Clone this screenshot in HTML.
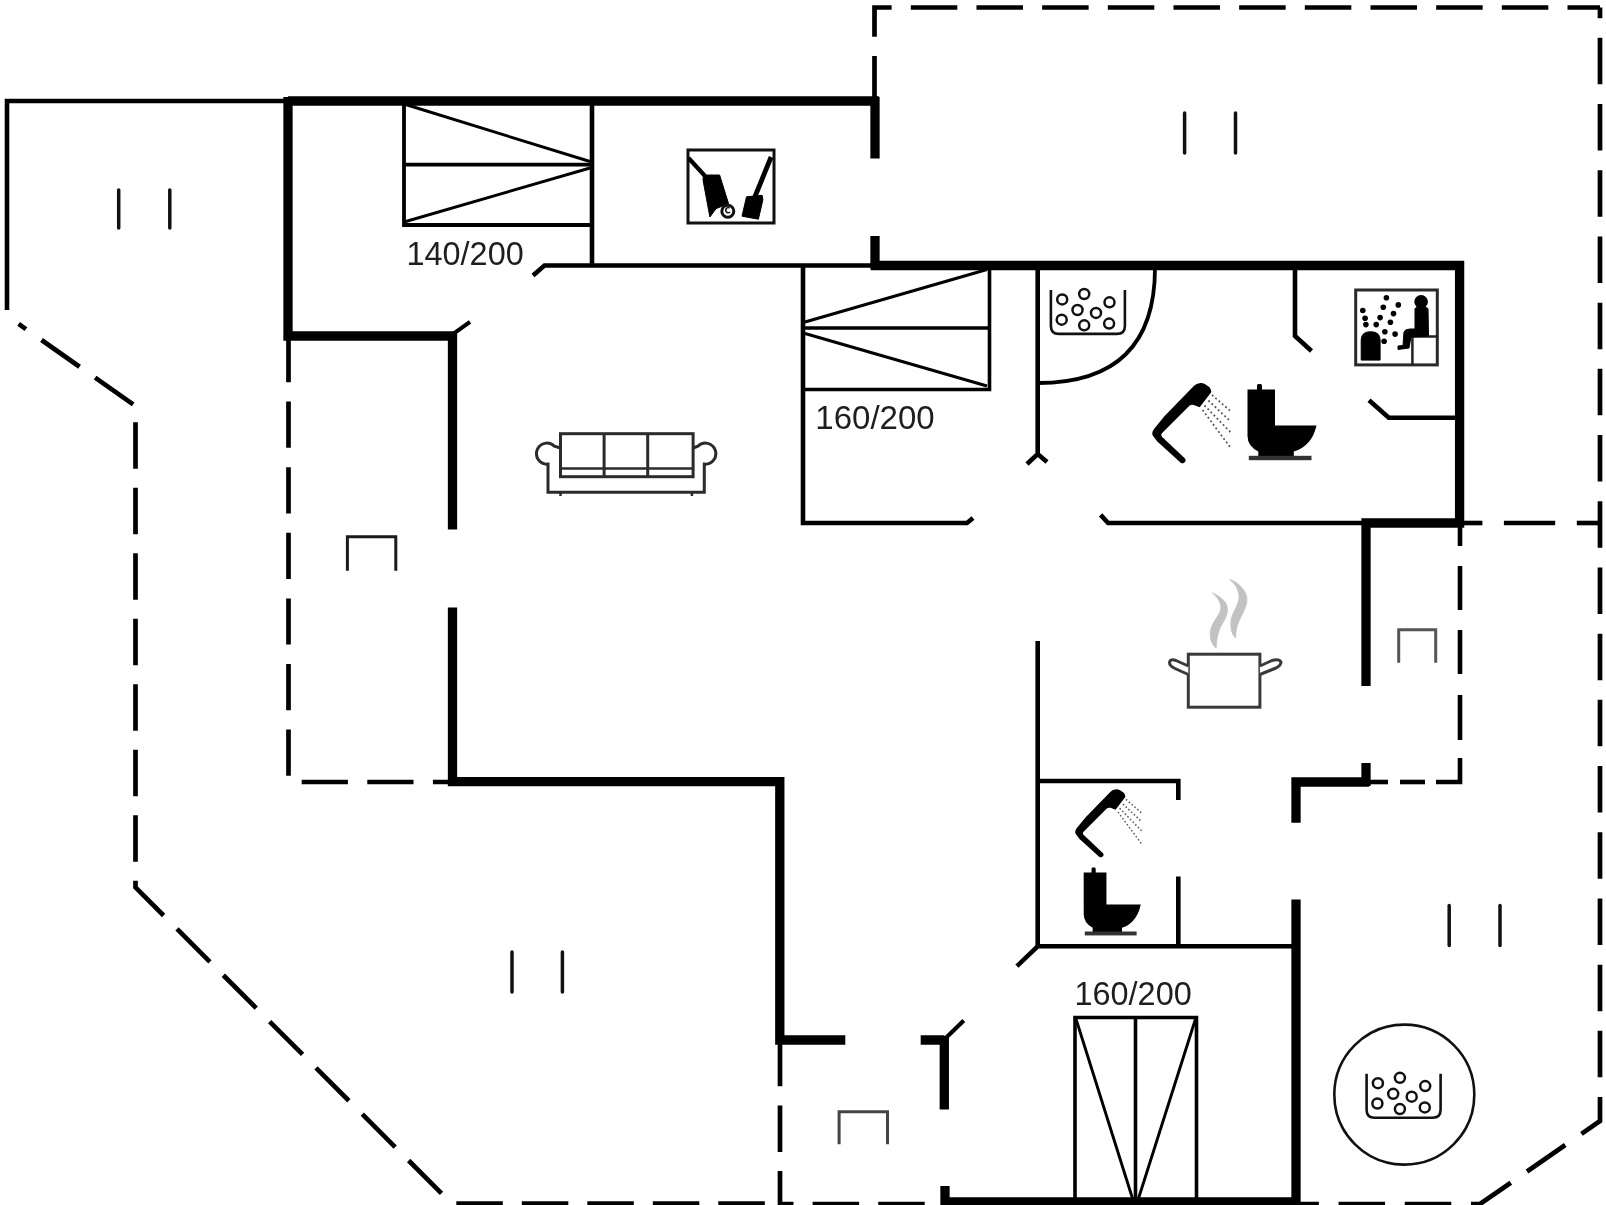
<!DOCTYPE html>
<html><head><meta charset="utf-8"><style>
html,body{margin:0;padding:0;background:#fff;overflow:hidden}
svg{display:block}
</style></head><body>
<div id="w"><svg width="1606" height="1205" viewBox="0 0 1606 1205">
<rect width="1606" height="1205" fill="#fff"/>
<path d="M874.5,101 V7.5 H1600" stroke="#000" stroke-width="4.7" fill="none" stroke-dasharray="46.5 19.17" stroke-dashoffset="1.54" stroke-linejoin="miter"/>
<path d="M1600,7.5 V1121 L1480,1204 H1296" stroke="#000" stroke-width="4.7" fill="none" stroke-dasharray="46.5 19.7" stroke-dashoffset="35.85" stroke-linejoin="miter"/>
<path d="M18.6,323.9 L135.5,406 V887.4 L451.6,1203.5 H780" stroke="#000" stroke-width="4.7" fill="none" stroke-dasharray="46.5 19.0" stroke-dashoffset="37.5" stroke-linejoin="miter"/>
<path d="M780,1044 V1204 H943" stroke="#000" stroke-width="4.7" fill="none" stroke-dasharray="46.5 19.1" stroke-dashoffset="4.2" stroke-linejoin="miter"/>
<path d="M288.5,340 V782 H452" stroke="#000" stroke-width="4.7" fill="none" stroke-dasharray="46.2 19.4" stroke-dashoffset="4" stroke-linejoin="miter"/>
<line x1="1460" y1="523" x2="1460" y2="546" stroke="#000" stroke-width="4.6" stroke-linecap="butt"/>
<line x1="1460" y1="566" x2="1460" y2="610" stroke="#000" stroke-width="4.6" stroke-linecap="butt"/>
<line x1="1460" y1="630" x2="1460" y2="674" stroke="#000" stroke-width="4.6" stroke-linecap="butt"/>
<line x1="1460" y1="695" x2="1460" y2="740" stroke="#000" stroke-width="4.6" stroke-linecap="butt"/>
<path d="M1460,758 V782 H1436" stroke="#000" stroke-width="4.6" fill="none" stroke-linecap="butt" stroke-linejoin="miter" />
<line x1="1400" y1="782" x2="1425" y2="782" stroke="#000" stroke-width="4.6" stroke-linecap="butt"/>
<line x1="1368" y1="782" x2="1388" y2="782" stroke="#000" stroke-width="4.6" stroke-linecap="butt"/>
<line x1="1464" y1="523" x2="1482.4" y2="523" stroke="#000" stroke-width="4.6" stroke-linecap="butt"/>
<line x1="1503.9" y1="523" x2="1555.2" y2="523" stroke="#000" stroke-width="4.6" stroke-linecap="butt"/>
<line x1="1576.8" y1="523" x2="1600" y2="523" stroke="#000" stroke-width="4.6" stroke-linecap="butt"/>
<path d="M7,310 V101 H290" stroke="#000" stroke-width="4.6" fill="none" stroke-linecap="butt" stroke-linejoin="miter" />
<path d="M404,101 V225 H592" stroke="#000" stroke-width="3.8" fill="none" stroke-linecap="butt" stroke-linejoin="miter" />
<line x1="404" y1="164.6" x2="592" y2="164.6" stroke="#000" stroke-width="3.6" stroke-linecap="butt"/>
<path d="M404,104 L590,161.5 M404,222 L590,168" stroke="#000" stroke-width="2.9" fill="none" stroke-linecap="butt" stroke-linejoin="miter" />
<line x1="592" y1="101" x2="592" y2="266" stroke="#000" stroke-width="4.6" stroke-linecap="butt"/>
<path d="M533,275.5 L544.5,265.5 H872" stroke="#000" stroke-width="4.6" fill="none" stroke-linecap="butt" stroke-linejoin="miter" />
<line x1="453.6" y1="333.6" x2="470" y2="321.9" stroke="#000" stroke-width="4.2" stroke-linecap="butt"/>
<path d="M803,265 V523 H967 L973,518" stroke="#000" stroke-width="4.6" fill="none" stroke-linecap="butt" stroke-linejoin="miter" />
<path d="M803,328 H989.5 M989.5,268 V389.5 H803" stroke="#000" stroke-width="3.6" fill="none" stroke-linecap="butt" stroke-linejoin="miter" />
<path d="M805,322 L987,269.5 M805,333.5 L987,386" stroke="#000" stroke-width="2.9" fill="none" stroke-linecap="butt" stroke-linejoin="miter" />
<path d="M1037.7,265 V454 M1027,464 L1037.7,454 L1047,462" stroke="#000" stroke-width="4.6" fill="none" stroke-linecap="butt" stroke-linejoin="miter" />
<path d="M1155,268 C1155,350 1110,383 1038,383" stroke="#000" stroke-width="3.8" fill="none" stroke-linecap="butt" stroke-linejoin="miter" />
<path d="M1295,265 V336 L1311.5,351" stroke="#000" stroke-width="4.6" fill="none" stroke-linecap="butt" stroke-linejoin="miter" />
<path d="M1369,400.3 L1388.8,417.7 H1460" stroke="#000" stroke-width="4.6" fill="none" stroke-linecap="butt" stroke-linejoin="miter" />
<path d="M1100.6,514.9 L1108.1,523 H1366" stroke="#000" stroke-width="4.6" fill="none" stroke-linecap="butt" stroke-linejoin="miter" />
<line x1="1037.7" y1="641" x2="1037.7" y2="946" stroke="#000" stroke-width="4.6" stroke-linecap="butt"/>
<path d="M1037.7,781 H1178.3 V800" stroke="#000" stroke-width="4.6" fill="none" stroke-linecap="butt" stroke-linejoin="miter" />
<line x1="1178.3" y1="876.5" x2="1178.3" y2="946" stroke="#000" stroke-width="4.6" stroke-linecap="butt"/>
<path d="M1016.9,966.2 L1037.7,946.3 H1296" stroke="#000" stroke-width="4.6" fill="none" stroke-linecap="butt" stroke-linejoin="miter" />
<path d="M288,101 H879" stroke="#000" stroke-width="9.3" fill="none" stroke-linecap="butt" stroke-linejoin="miter" />
<line x1="875" y1="97" x2="875" y2="158.5" stroke="#000" stroke-width="9.3" stroke-linecap="butt"/>
<path d="M288,97 V336 H456.3" stroke="#000" stroke-width="9.3" fill="none" stroke-linecap="butt" stroke-linejoin="miter" />
<line x1="452.5" y1="332" x2="452.5" y2="529.5" stroke="#000" stroke-width="9.3" stroke-linecap="butt"/>
<path d="M452.5,607.5 V781.7 H779.8 V1040 H845.3" stroke="#000" stroke-width="9.3" fill="none" stroke-linecap="butt" stroke-linejoin="miter" />
<path d="M920.7,1040 H944.3 M944.3,1036 V1109.6" stroke="#000" stroke-width="9.3" fill="none" stroke-linecap="butt" stroke-linejoin="miter" />
<line x1="963.8" y1="1020.5" x2="945.3" y2="1038.4" stroke="#000" stroke-width="4.2" stroke-linecap="butt"/>
<path d="M945,1186 V1202 H1296" stroke="#000" stroke-width="9.3" fill="none" stroke-linecap="butt" stroke-linejoin="miter" />
<line x1="1296" y1="899.4" x2="1296" y2="1205" stroke="#000" stroke-width="9.3" stroke-linecap="butt"/>
<path d="M1296,822.8 V782 H1369" stroke="#000" stroke-width="9.3" fill="none" stroke-linecap="butt" stroke-linejoin="miter" />
<line x1="1366" y1="763" x2="1366" y2="786" stroke="#000" stroke-width="9.3" stroke-linecap="butt"/>
<path d="M1366,686.1 V523 H1459.6 V265.5 H871" stroke="#000" stroke-width="9.3" fill="none" stroke-linecap="butt" stroke-linejoin="miter" />
<line x1="875" y1="236" x2="875" y2="269.5" stroke="#000" stroke-width="9.3" stroke-linecap="butt"/>
<path d="M1075,1202 V1017.5 H1196.5 V1202 M1135.5,1017.5 V1202" stroke="#000" stroke-width="3.6" fill="none" stroke-linecap="butt" stroke-linejoin="miter" />
<path d="M1076,1019 L1133,1200 M1195.5,1019 L1138,1200" stroke="#000" stroke-width="2.9" fill="none" stroke-linecap="butt" stroke-linejoin="miter" />
<text x="406.5" y="265.3" font-family="Liberation Sans, sans-serif" font-size="32.5" fill="#1e1e1e" style="will-change:transform" textLength="117.2" lengthAdjust="spacingAndGlyphs">140/200</text>
<text x="815.3" y="429.3" font-family="Liberation Sans, sans-serif" font-size="32.5" fill="#1e1e1e" style="will-change:transform" textLength="119.4" lengthAdjust="spacingAndGlyphs">160/200</text>
<text x="1074.5" y="1004.6" font-family="Liberation Sans, sans-serif" font-size="32.5" fill="#1e1e1e" style="will-change:transform" textLength="117.2" lengthAdjust="spacingAndGlyphs">160/200</text>
<line x1="118.7" y1="190" x2="118.7" y2="228" stroke="#111" stroke-width="3.5" stroke-linecap="round"/>
<line x1="169.8" y1="190" x2="169.8" y2="228" stroke="#111" stroke-width="3.5" stroke-linecap="round"/>
<line x1="1184.6" y1="113" x2="1184.6" y2="153" stroke="#111" stroke-width="3.5" stroke-linecap="round"/>
<line x1="1235.5" y1="113" x2="1235.5" y2="153" stroke="#111" stroke-width="3.5" stroke-linecap="round"/>
<line x1="512" y1="952" x2="512" y2="992" stroke="#111" stroke-width="3.5" stroke-linecap="round"/>
<line x1="562.4" y1="952" x2="562.4" y2="992" stroke="#111" stroke-width="3.5" stroke-linecap="round"/>
<line x1="1449.2" y1="905.5" x2="1449.2" y2="945.5" stroke="#111" stroke-width="3.5" stroke-linecap="round"/>
<line x1="1500" y1="905.5" x2="1500" y2="945.5" stroke="#111" stroke-width="3.5" stroke-linecap="round"/>
<path d="M347.4,570.8 V536.7 H395.8 V570.8" stroke="#1a1a1a" stroke-width="3" fill="none" stroke-linecap="butt" stroke-linejoin="miter" />
<path d="M1398.7,662.8 V629.7 H1435.7 V662.8" stroke="#555" stroke-width="3" fill="none" stroke-linecap="butt" stroke-linejoin="miter" />
<path d="M839.1,1144.3 V1111.8 H887.5 V1144.3" stroke="#444" stroke-width="3" fill="none" stroke-linecap="butt" stroke-linejoin="miter" />
<rect x="688" y="150" width="86" height="73" fill="none" stroke="#111" stroke-width="3"/>
<line x1="688.5" y1="158" x2="705" y2="176" stroke="#000" stroke-width="4.2" stroke-linecap="butt"/>
<path d="M703.5,175 L719.6,175 L728.5,203.5 L716,208.7 L709.9,217 L703,180 Z" stroke="#000" stroke-width="1" fill="#000" stroke-linecap="butt" stroke-linejoin="miter" />
<circle cx="727.8" cy="211.2" r="6" fill="none" stroke="#111" stroke-width="3"/>
<path d="M729.5,208 A2.5,2.5 0 1 0 730,212" stroke="#111" stroke-width="1.5" fill="none" stroke-linecap="butt" stroke-linejoin="miter" />
<line x1="771.1" y1="157" x2="754" y2="199" stroke="#000" stroke-width="4.8" stroke-linecap="butt"/>
<path d="M746.5,196.8 L762.1,195.3 L762.9,199.7 L758.4,219.2 L742,216.2 Z" stroke="#000" stroke-width="1" fill="#000" stroke-linecap="butt" stroke-linejoin="miter" />
<rect x="560.5" y="433.7" width="132.6" height="43" fill="none" stroke="#2b2b2b" stroke-width="3"/>
<line x1="604.1" y1="433.7" x2="604.1" y2="476.7" stroke="#2b2b2b" stroke-width="3" stroke-linecap="butt"/>
<line x1="647.7" y1="433.7" x2="647.7" y2="476.7" stroke="#2b2b2b" stroke-width="3" stroke-linecap="butt"/>
<line x1="560.5" y1="468.6" x2="693.1" y2="468.6" stroke="#2b2b2b" stroke-width="2.5" stroke-linecap="butt"/>
<path d="M560.5,448 L554.4,446.2 A10.5,10.5 0 1 0 548,464.1 V492.2 H704.3 V464.1 A10.5,10.5 0 1 0 697.9,446.2 L693.1,448" stroke="#2b2b2b" stroke-width="3" fill="none" stroke-linecap="butt" stroke-linejoin="miter" />
<line x1="560.5" y1="492" x2="560.5" y2="496" stroke="#2b2b2b" stroke-width="2.5" stroke-linecap="butt"/>
<line x1="691.9" y1="492" x2="691.9" y2="496" stroke="#2b2b2b" stroke-width="2.5" stroke-linecap="butt"/>
<path d="M1050.9,289.9 V325.9 Q1050.9,333.9 1058.9,333.9 H1116.9 Q1124.9,333.9 1124.9,325.9 V289.9" fill="none" stroke="#111" stroke-width="2.6"/>
<circle cx="1062.2" cy="299.4" r="5" fill="none" stroke="#111" stroke-width="2.5"/>
<circle cx="1084.2" cy="294.0" r="5" fill="none" stroke="#111" stroke-width="2.5"/>
<circle cx="1109.5" cy="302.29999999999995" r="5" fill="none" stroke="#111" stroke-width="2.5"/>
<circle cx="1077.5" cy="310.0" r="5" fill="none" stroke="#111" stroke-width="2.5"/>
<circle cx="1096.0" cy="312.9" r="5" fill="none" stroke="#111" stroke-width="2.5"/>
<circle cx="1061.7" cy="319.7" r="5" fill="none" stroke="#111" stroke-width="2.5"/>
<circle cx="1084.2" cy="325.29999999999995" r="5" fill="none" stroke="#111" stroke-width="2.5"/>
<circle cx="1109.1000000000001" cy="323.59999999999997" r="5" fill="none" stroke="#111" stroke-width="2.5"/>
<path d="M1366.6,1073.7 V1109.7 Q1366.6,1117.7 1374.6,1117.7 H1432.6 Q1440.6,1117.7 1440.6,1109.7 V1073.7" fill="none" stroke="#111" stroke-width="2.6"/>
<circle cx="1377.8999999999999" cy="1083.2" r="5" fill="none" stroke="#111" stroke-width="2.5"/>
<circle cx="1399.8999999999999" cy="1077.8" r="5" fill="none" stroke="#111" stroke-width="2.5"/>
<circle cx="1425.1999999999998" cy="1086.1000000000001" r="5" fill="none" stroke="#111" stroke-width="2.5"/>
<circle cx="1393.1999999999998" cy="1093.8" r="5" fill="none" stroke="#111" stroke-width="2.5"/>
<circle cx="1411.6999999999998" cy="1096.7" r="5" fill="none" stroke="#111" stroke-width="2.5"/>
<circle cx="1377.3999999999999" cy="1103.5" r="5" fill="none" stroke="#111" stroke-width="2.5"/>
<circle cx="1399.8999999999999" cy="1109.1000000000001" r="5" fill="none" stroke="#111" stroke-width="2.5"/>
<circle cx="1424.8" cy="1107.4" r="5" fill="none" stroke="#111" stroke-width="2.5"/>
<circle cx="1404.3" cy="1094.6" r="70" fill="none" stroke="#111" stroke-width="2.6"/>
<g><path d="M1185,458.4 L1161.7,436.4 Q1160.5,434 1162.4,432.8 L1189.4,405.8 Q1191,404.5 1193.8,405 L1199.7,407.2 L1211.4,391.9 Q1210.5,387 1207.7,386 Q1204,382.5 1200.4,383.1 Q1196,383.5 1193.8,386 L1164.6,416 L1154.4,428.4 Q1151,433 1152.9,435.7 L1157.3,441.5 L1180.7,462.7 Q1183,464 1185,462 Q1186.5,460 1185,458.4 Z" fill="#000"/><g stroke="#555" stroke-width="1.8" stroke-dasharray="1.8 2.6" fill="none"><path d="M1212,395 L1230.3,410.9"/><path d="M1208.4,400.5 L1230.3,421.1"/><path d="M1204.5,405.5 L1230.3,432"/><path d="M1202.6,410 L1230.3,447.4"/></g><rect x="1257" y="384" width="5" height="8" rx="1.5" fill="#000"/><path d="M1247.5,389.5 H1275 V425.5 H1316.5 Q1312,446 1293.8,451.6 V456.5 H1258.3 V451.6 Q1247.5,446 1247.5,436 Z" fill="#000"/><rect x="1248.8" y="455.8" width="62.7" height="4.4" fill="#333"/></g>
<g transform="translate(95.8,463.6) scale(0.85)"><path d="M1185,458.4 L1161.7,436.4 Q1160.5,434 1162.4,432.8 L1189.4,405.8 Q1191,404.5 1193.8,405 L1199.7,407.2 L1211.4,391.9 Q1210.5,387 1207.7,386 Q1204,382.5 1200.4,383.1 Q1196,383.5 1193.8,386 L1164.6,416 L1154.4,428.4 Q1151,433 1152.9,435.7 L1157.3,441.5 L1180.7,462.7 Q1183,464 1185,462 Q1186.5,460 1185,458.4 Z" fill="#000"/><g stroke="#555" stroke-width="1.8" stroke-dasharray="1.8 2.6" fill="none"><path d="M1212,395 L1230.3,410.9"/><path d="M1208.4,400.5 L1230.3,421.1"/><path d="M1204.5,405.5 L1230.3,432"/><path d="M1202.6,410 L1230.3,447.4"/></g></g>
<g transform="translate(52.02,525.85) scale(0.827,0.89)"><rect x="1257" y="384" width="5" height="8" rx="1.5" fill="#000"/><path d="M1247.5,389.5 H1275 V425.5 H1316.5 Q1312,446 1293.8,451.6 V456.5 H1258.3 V451.6 Q1247.5,446 1247.5,436 Z" fill="#000"/><rect x="1248.8" y="455.8" width="62.7" height="4.4" fill="#333"/></g>
<rect x="1355.7" y="290" width="81.6" height="74.9" fill="none" stroke="#2a2a2a" stroke-width="3"/>
<path d="M1412.4,364.9 V336.5 H1437.3" stroke="#222" stroke-width="2.5" fill="none" stroke-linecap="butt" stroke-linejoin="miter" />
<path d="M1361.2,360.1 V340 Q1361.2,331.7 1370.6,331.7 Q1380.1,331.7 1380.1,340 V360.1 Z" stroke="#000" stroke-width="1" fill="#000" stroke-linecap="butt" stroke-linejoin="miter" />
<circle cx="1421.1" cy="301.8" r="6.8" fill="#000"/>
<path d="M1415,308.5 Q1421,304 1428,308.5 L1428.5,336 L1411,337 L1409,348 L1398,349.5 L1398,346 L1403,345.5 L1404,332 Q1405,329 1410,329 L1415,329 Z" stroke="#000" stroke-width="1" fill="#000" stroke-linecap="butt" stroke-linejoin="miter" />
<circle cx="1362.8" cy="310.5" r="2.8" fill="#000"/>
<circle cx="1365.1" cy="318.3" r="2.8" fill="#000"/>
<circle cx="1365.9" cy="324.6" r="2.8" fill="#000"/>
<circle cx="1376.2" cy="324.6" r="2.8" fill="#000"/>
<circle cx="1380.1" cy="317.6" r="2.8" fill="#000"/>
<circle cx="1383.3" cy="307.3" r="2.8" fill="#000"/>
<circle cx="1386.4" cy="297.8" r="2.8" fill="#000"/>
<circle cx="1398.3" cy="304.9" r="2.8" fill="#000"/>
<circle cx="1393.5" cy="313.6" r="2.8" fill="#000"/>
<circle cx="1390.4" cy="322.3" r="2.8" fill="#000"/>
<circle cx="1384.9" cy="331.7" r="2.8" fill="#000"/>
<circle cx="1384.1" cy="341.2" r="2.8" fill="#000"/>
<circle cx="1395.1" cy="334.1" r="2.8" fill="#000"/>
<rect x="1188.3" y="654.2" width="71.6" height="53" fill="none" stroke="#3a3a3a" stroke-width="3"/>
<path d="M1188.3,666 L1176,660.5 Q1170,658.5 1169.5,662.5 Q1169.5,666 1175,668.5 L1188.3,674.5" stroke="#3a3a3a" stroke-width="3" fill="#fff" stroke-linecap="butt" stroke-linejoin="round" />
<path d="M1259.9,666 L1272,660.5 Q1279,658.5 1281,662 Q1281,665.5 1276,668 L1259.9,674.5" stroke="#3a3a3a" stroke-width="3" fill="#fff" stroke-linecap="butt" stroke-linejoin="round" />
<path d="M1212.5,592.9 C1220,596 1227,602 1227.4,608 C1228,616 1223,622 1220,628 C1217.5,634 1216.2,642 1216.2,648.2 C1211,644 1209,636 1211,628.8 C1212.5,623 1216,619 1219,614 C1222,609 1222,601 1212.5,592.9 Z" stroke="#c2c2c2" stroke-width="0.8" fill="#c2c2c2" stroke-linecap="butt" stroke-linejoin="miter" />
<path d="M1229.7,579.4 C1238,582 1246,590 1246.9,598 C1247.5,606 1242,614 1239,621 C1236.5,627 1235.6,632 1235.6,638 C1231,634 1229.5,624 1231.9,616.8 C1233.5,611 1237.5,606 1238.8,600 C1240,593 1237,585 1229.7,579.4 Z" stroke="#c2c2c2" stroke-width="0.8" fill="#c2c2c2" stroke-linecap="butt" stroke-linejoin="miter" />
</svg></div>
</body></html>
